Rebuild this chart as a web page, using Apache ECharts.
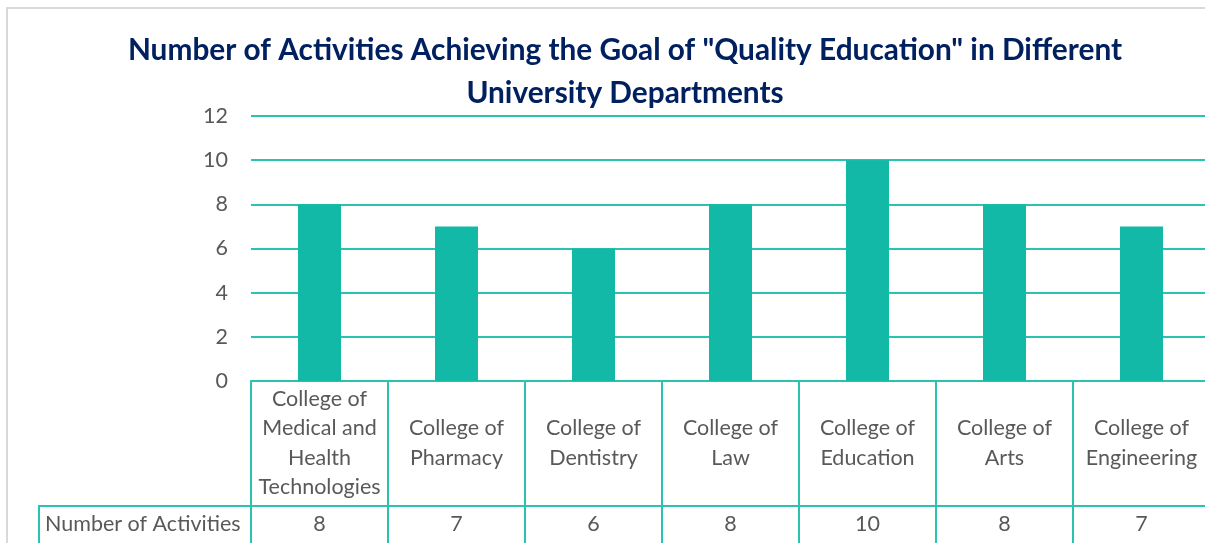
<!DOCTYPE html>
<html>
<head>
<meta charset="utf-8">
<script src="https://cdn.jsdelivr.net/npm/echarts@6/dist/echarts.min.js"></script>
<style>
  html, body { margin: 0; padding: 0; background: #fff; overflow: hidden; }
  #main { width: 1211px; height: 543px; }
</style>
</head>
<body>
<div id="main"></div>
<script>
// 数据
var departments = [
  'College of\nMedical and\nHealth\nTechnologies',
  'College of\nPharmacy',
  'College of\nDentistry',
  'College of\nLaw',
  'College of\nEducation',
  'College of\nArts',
  'College of\nEngineering'
];
var activities = [8, 7, 6, 8, 10, 8, 7];
var rowName = 'Number of Activities';
var titleText = 'Number of Activities Achieving the Goal of "Quality Education" in Different\nUniversity Departments';

var teal = '#12b9a6';
var lineTeal = '#2cc2b0';
var grey = '#595959';
var fontName = 'Lato, "Open Sans", sans-serif';

// 图表比可视区域略宽，右侧被裁掉一点（和原图一致）
var myChart = echarts.init(document.getElementById('main'));
var option = {
    animation: false,
    backgroundColor: '#fff',
    grid: {
        left: 251,
        top: 116,
        width: 959,
        bottom: 162
    },
    xAxis: [
        {
            type: 'category',
            data: departments,
            position: 'bottom',
            axisLine: { show: true, lineStyle: { color: lineTeal, width: 2 } },
            axisTick: { show: true, interval: 0, length: 125, lineStyle: { color: lineTeal, width: 2 } },
            axisLabel: {
                interval: 0,
                color: grey,
                fontSize: 21.5,
                fontFamily: fontName,
                lineHeight: 29.5,
                verticalAlign: 'middle',
                margin: 62
            }
        },
        {
            type: 'category',
            data: activities.map(String),
            position: 'bottom',
            offset: 125,
            axisLine: { show: true, lineStyle: { color: lineTeal, width: 2 } },
            axisTick: { show: true, interval: 0, length: 40, lineStyle: { color: lineTeal, width: 2 } },
            axisLabel: {
                interval: 0,
                color: grey,
                fontSize: 21.5,
                fontFamily: fontName,
                verticalAlign: 'middle',
                margin: 18
            }
        }
    ],
    yAxis: {
        type: 'value',
        min: 0,
        max: 12,
        interval: 2,
        axisLine: { show: false },
        axisTick: { show: false },
        axisLabel: { color: grey, fontSize: 21.5, fontFamily: fontName, margin: 23 },
        splitLine: { lineStyle: { color: lineTeal, width: 2 } }
    },
    series: [
        {
            name: rowName,
            type: 'bar',
            xAxisIndex: 0,
            data: activities,
            barWidth: 43,
            itemStyle: { color: teal }
        }
    ],
    graphic: [
        {
            type: 'polyline',
            shape: { points: [[7, 543], [7, 8], [1211, 8]] },
            style: { stroke: '#d9d9d9', lineWidth: 2, fill: null }
        },
        {
            type: 'text',
            x: 625,
            y: 29,
            style: {
                text: titleText,
                fill: '#002060',
                font: 'bold 29.8px ' + fontName,
                textAlign: 'center',
                lineHeight: 43
            }
        },
        {
            type: 'polyline',
            shape: { points: [[39, 545], [39, 506], [251, 506]] },
            style: { stroke: lineTeal, lineWidth: 2, fill: null }
        },
        {
            type: 'text',
            x: 45,
            y: 524,
            style: {
                text: rowName,
                fill: grey,
                font: '21.5px ' + fontName,
                textAlign: 'left',
                textVerticalAlign: 'middle'
            }
        }
    ]
};
myChart.setOption(option);
</script>
</body>
</html>
